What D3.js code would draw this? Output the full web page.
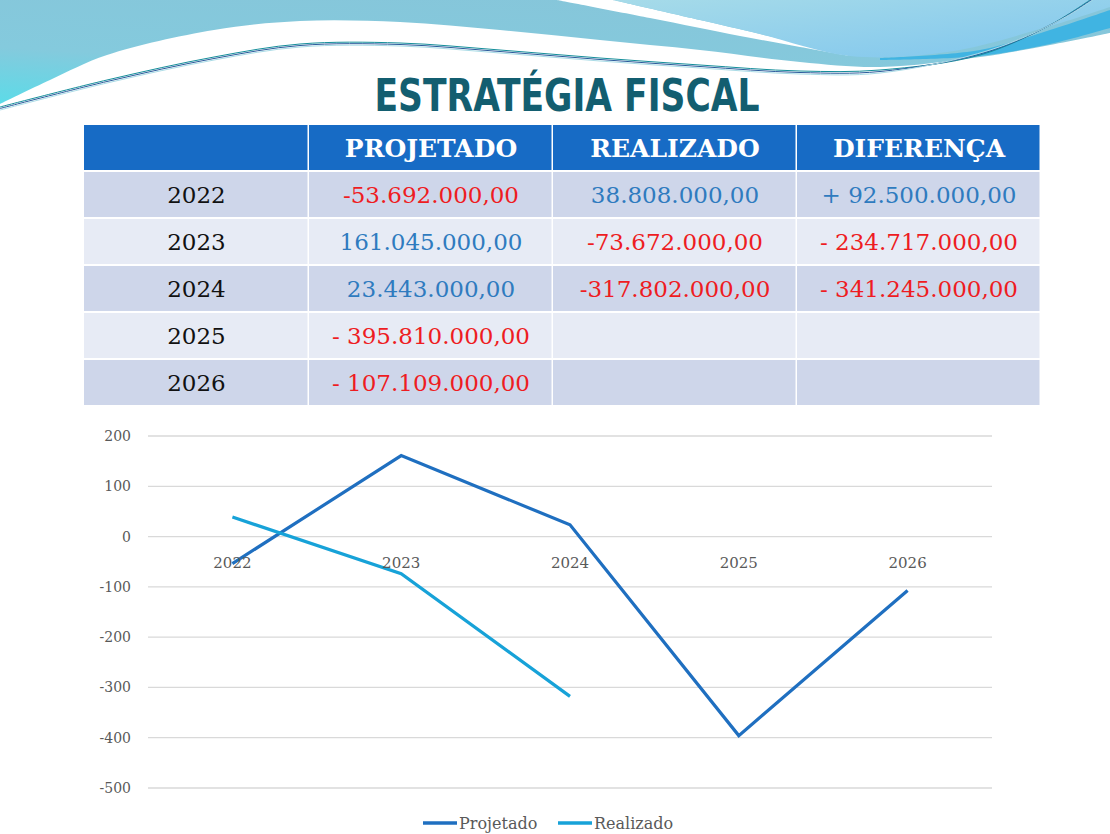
<!DOCTYPE html>
<html><head><meta charset="utf-8">
<script src="https://cdn.jsdelivr.net/npm/d3@7"></script>
<style>html,body{margin:0;padding:0;background:#fff;}svg{display:block;}</style>
</head><body>
<svg id="c" width="1110" height="834"></svg>
<script>
// ---- data ----
const years = ["2022","2023","2024","2025","2026"];
const projetado = [-53.692, 161.045, 23.443, -395.810, -107.109];   // milhões
const realizado = [38.808, -73.672, -317.802];                      // milhões
const headers = ["", "PROJETADO", "REALIZADO", "DIFERENÇA"];
const projLabels = ["-53.692.000,00","161.045.000,00","23.443.000,00","- 395.810.000,00","- 107.109.000,00"];
const realLabels = ["38.808.000,00","-73.672.000,00","-317.802.000,00","",""];
const difLabels  = ["+ 92.500.000,00","- 234.717.000,00","- 341.245.000,00","",""];
const yTicks = [200,100,0,-100,-200,-300,-400,-500];
const seriesNames = ["Projetado","Realizado"];

const svg = d3.select("#c");
const RED="#ee1c22", BLUE="#2f7bbf";

// ---- decorative header wave ----
const defs = svg.append("defs");
const g1 = defs.append("linearGradient").attr("id","gA").attr("x1","0").attr("y1","1").attr("x2","0.6").attr("y2","0");
g1.append("stop").attr("offset","0").attr("stop-color","#5cdbe8");
g1.append("stop").attr("offset","0.4").attr("stop-color","#84cadd");
g1.append("stop").attr("offset","1").attr("stop-color","#86c6da");
const g2 = defs.append("linearGradient").attr("id","gB").attr("x1","0").attr("y1","0").attr("x2","1").attr("y2","1");
g2.append("stop").attr("offset","0").attr("stop-color","#a6dbe9");
g2.append("stop").attr("offset","1").attr("stop-color","#80c6ee");
const cr = d3.line().curve(d3.curveCatmullRom);
const wave = svg.append("g");
const tealBottom = [[0,104],[50,80],[107,55],[214,30],[300,21],[400,22],[500,30],[600,40],[700,50],[800,62],[880,67],[980,57],[1050,45],[1110,33]];
wave.append("path").attr("fill","url(#gA)")
  .attr("d", cr(tealBottom) + "L1110,0L0,0Z");
const streakTop = [[557,0],[650,18],[740,36],[800,47],[850,56]];
const streakBot = [[850,56],[760,34],[700,20],[613,0]];
wave.append("path").attr("fill","#ffffff").attr("d", cr(streakTop) + cr(streakBot).replace("M","L") + "Z");
const blueBot = [[613,0],[700,20],[760,34],[850,56],[947,52],[1047,27],[1110,7]];
wave.append("path").attr("fill","url(#gB)").attr("d", cr(blueBot) + "L1110,0Z");
const ribTop = [[880,58],[980,50],[1050,30],[1110,10]];
const ribBot = [[1110,28],[1050,44],[980,56],[880,60]];
wave.append("path").attr("fill","#40b4e2").attr("d", cr(ribTop) + cr(ribBot).replace("M","L") + "Z");
const thinPts = [[0,107],[107,80],[214,57],[300,44],[400,43],[500,50],[600,58],[700,65],[800,71],[880,70],[980,55],[1050,25],[1090,0]];
[["#148e9a",0],["#2b5b9c",2.5],["#a9dbe6",5]].forEach(([col,off])=>{
  wave.append("path").attr("fill","none").attr("stroke",col).attr("stroke-width",1)
    .attr("d", cr(thinPts.map(([a,b],i)=>[a+(i>9?off*2:0), b+(i<10?off*0.6:-off)])));
});

// ---- title ----
svg.append("text").attr("x",567).attr("y",111).attr("text-anchor","middle")
  .attr("font-family","'DejaVu Sans Condensed','DejaVu Sans',sans-serif").attr("font-weight","bold")
  .attr("font-size",44).attr("fill","#135e70").attr("textLength",385).attr("lengthAdjust","spacingAndGlyphs")
  .text("ESTRATÉGIA FISCAL");

// ---- table ----
const colEdges = [84,309,553,797,1041];
const tbl = svg.append("g");
const headerY0=125, headerH=46, rowH=47, rowY0=172;
const rowY = d3.scaleBand().domain(d3.range(years.length)).range([rowY0,rowY0+rowH*years.length]);
const cx = i => (colEdges[i]+colEdges[i+1])/2;
headers.forEach((h,i)=>{
  tbl.append("rect").attr("x",colEdges[i]).attr("y",headerY0).attr("width",colEdges[i+1]-colEdges[i]-1.5).attr("height",headerH-1).attr("fill","#176bc5");
  tbl.append("text").attr("x",cx(i)).attr("y",headerY0+32).attr("text-anchor","middle")
    .attr("font-family","'DejaVu Serif',serif").attr("font-weight","bold").attr("font-size",25).attr("fill","#fff").text(h);
});
function numColor(s){ return s.trim().startsWith("-") ? RED : BLUE; }
years.forEach((yr,r)=>{
  const fill = r%2===0 ? "#ced6ea" : "#e7ebf5";
  const cells = [yr, projLabels[r], realLabels[r], difLabels[r]];
  cells.forEach((t,i)=>{
    tbl.append("rect").attr("x",colEdges[i]).attr("y",rowY(r)).attr("width",colEdges[i+1]-colEdges[i]-1.5).attr("height",rowH-2).attr("fill",fill);
    tbl.append("text").attr("x",cx(i)).attr("y",rowY(r)+31).attr("text-anchor","middle")
      .attr("font-family","'DejaVu Serif',serif").attr("font-size",i===0?23:23)
      .attr("fill", i===0 ? "#111" : numColor(t)).text(t);
  });
});

// ---- chart ----
const x = d3.scalePoint().domain(years).range([148,992]).padding(0.5);
const y = d3.scaleLinear().domain([-500,200]).range([788,436]);
const ch = svg.append("g");
ch.append("g").selectAll("line").data(yTicks).join("line")
  .attr("x1",148).attr("x2",992).attr("y1",d=>y(d)).attr("y2",d=>y(d))
  .attr("stroke","#d9d9d9").attr("stroke-width",1.3);
ch.append("g").selectAll("text").data(yTicks).join("text")
  .attr("x",131).attr("y",d=>y(d)+5).attr("text-anchor","end")
  .attr("font-family","'DejaVu Serif',serif").attr("font-size",14).attr("fill","#595959").text(d=>d);

const line = d3.line().x((d,i)=>x(years[i])).y(d=>y(d));
ch.append("path").datum(projetado).attr("d",line).attr("fill","none").attr("stroke","#1f6fc0").attr("stroke-width",3.2);
ch.append("path").datum(realizado).attr("d",line).attr("fill","none").attr("stroke","#17a2d8").attr("stroke-width",3.2);

ch.append("g").selectAll("text").data(years).join("text")
  .attr("x",d=>x(d)).attr("y",y(0)+31).attr("text-anchor","middle")
  .attr("font-family","'DejaVu Serif',serif").attr("font-size",15).attr("fill","#595959").text(d=>d);

// ---- legend ----
const lg = svg.append("g");
const legColors = ["#1f6fc0","#17a2d8"];
const legX = [423,558];
seriesNames.forEach((n,i)=>{
  lg.append("line").attr("x1",legX[i]).attr("x2",legX[i]+34).attr("y1",823).attr("y2",823)
    .attr("stroke",legColors[i]).attr("stroke-width",3.5);
  lg.append("text").attr("x",legX[i]+36).attr("y",829)
    .attr("font-family","'DejaVu Serif',serif").attr("font-size",16).attr("fill","#595959").text(n);
});
</script>
</body></html>
